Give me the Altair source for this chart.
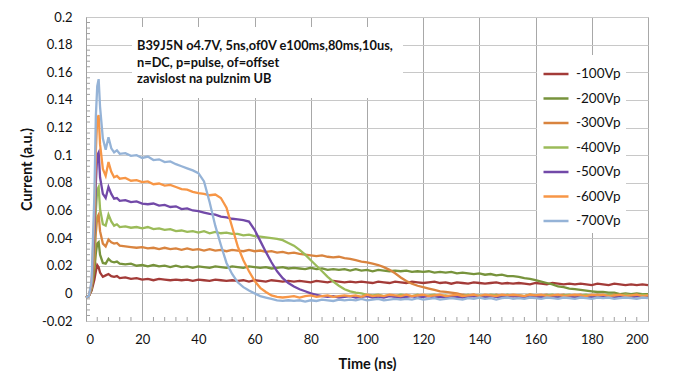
import altair as alt
import pandas as pd

# ---------------- data (current in units of 1e-3 a.u.) ----------------
TIME = [0, 1, 2, 3, 3.5, 4, 4.5, 5, 6, 7, 8, 9, 10, 11, 12] + list(range(14, 201, 2))

CUR_100 = [-3, -2, 2, 10, 16, 20.5, 19, 15, 12, 13, 14, 12.5, 12, 12.5, 11,
           11.5, 10.5, 11, 10, 10.5, 9.5, 10.5, 10, 9.5, 10,
           9.5, 10, 9, 10, 9.5, 9, 10, 9.5, 9, 9.5,
           9, 9.5, 8.5, 9.5, 9, 8.5, 9.5, 9, 8.5, 9,
           8.5, 9, 8.5, 8, 9, 8.5, 8, 9, 8.5, 8,
           8.5, 8, 8.5, 8, 7.5, 8.5, 8, 7.5, 8.5, 8,
           7.5, 8.5, 8, 7.5, 8, 8.5, 7.5, 8, 7, 8,
           7.5, 7, 8, 7.5, 7, 7.5, 8, 7, 7.5, 7,
           7.5, 7, 6.5, 7.5, 7, 6.5, 7.5, 7, 6.5, 7,
           6.5, 7, 6.5, 6, 7, 6.5, 6, 7, 6.5, 6,
           6.5, 6, 6.5, 6]

CUR_200 = [-3, -2, 3, 17, 29, 36, 37, 28, 22, 21.5, 25, 23, 22.5, 23, 21.5,
           21, 21.5, 20, 20.5, 19.5, 20.5, 19.5, 20, 19, 20,
           19, 19.5, 18.5, 19.5, 19, 18.5, 19.5, 19, 18.5, 19.5,
           19, 18.5, 19.5, 19, 18.5, 19, 18, 18.5, 19, 18,
           18.5, 18, 17.5, 18.5, 17.5, 18, 17, 17.5, 17, 17.5,
           16.5, 17.5, 16.5, 17, 16, 17, 16.5, 16, 16.5, 16,
           16.5, 15.5, 16, 15.5, 16, 15, 15.5, 15, 15.5, 14.5,
           15, 14.5, 14, 14.5, 13.5, 14, 13, 13.5, 12.5, 12.5,
           12, 11, 10.5, 9.5, 8.5, 7.5, 6.5, 5, 4.5, 3.5,
           3, 2.5, 2, 1.5, 1, 1, 0.5, 0.5, -0.5, 0,
           -0.5, 0, -0.5, -0.5]

CUR_300 = [-3, -2, 4, 25, 44, 55, 57, 45, 36, 34, 39, 37, 36, 36.5, 34.5,
           34, 33.5, 33, 33.5, 32.5, 33, 32, 33, 32, 32.5,
           31.5, 32.5, 31.5, 32, 31, 32, 31, 31.5, 30.5, 31.5,
           31, 30.5, 31.5, 30.5, 31, 30, 30.5, 29.5, 30, 29,
           29.5, 28.5, 28, 27.5, 27, 27.5, 26.5, 26, 26.5, 25.5,
           25, 24, 23, 22.5, 21.5, 20.5, 19, 17, 14.5, 11.5,
           9, 7, 5.5, 4.5, 3.5, 2.5, 1.5, 1, 0.5, 0,
           -1, -1.5, -1, -2, -1.5, -2, -1, -2, -1.5, -2,
           -1.5, -2, -1, -2, -1.5, -1, -2, -1.5, -1, -2,
           -1.5, -1, -2, -1.5, -1, -1.5, -2, -1, -1.5, -1,
           -1.5, -1, -2, -1.5]

CUR_400 = [-3, -2, 5, 34, 60, 75, 77, 61, 50, 49, 57, 52, 49, 50, 48,
           48.5, 47.5, 48, 47, 48, 46.5, 47, 46, 46.5, 45,
           45.5, 44.5, 45, 44, 45, 43.5, 44.5, 43.5, 44, 43,
           43, 42, 42.5, 41.5, 41, 40.5, 40, 39.5, 38.5, 36.5,
           34.5, 31.5, 28, 24, 20, 16, 12, 8.5, 5.5, 3,
           1.5, 0.5, 0, -1, -1.5, -1, -2, -1.5, -2, -1,
           -1.5, -2, -1, -2, -1.5, -1, -2, -1.5, -2.5, -1.5,
           -2, -1, -2, -1.5, -2, -1, -1.5, -2, -1, -2,
           -1.5, -2, -1, -1.5, -2, -1.5, -1, -2, -1.5, -1,
           -2, -1.5, -1, -2, -1.5, -2, -1, -1.5, -2, -1,
           -1.5, -2, -1, -1.5]

CUR_500 = [-3, -2, 6, 45, 80, 100, 102, 84, 72, 69, 77, 72, 68.5, 69, 67,
           67.5, 66, 66.5, 65, 64.5, 65, 63.5, 64, 62.5, 63,
           61, 61.5, 60, 59.5, 58.5, 57.5, 57, 55.5, 55, 54,
           53.5, 53, 52, 46, 38, 30, 22.5, 16, 11, 7.5,
           5, 3, 1.5, 0, -1, -2, -2.5, -2, -3, -2.5,
           -2, -3, -2.5, -2, -3, -2.5, -3, -2, -2.5, -3,
           -2.5, -2, -3, -2.5, -2, -3, -2.5, -3, -2, -2.5,
           -3, -2.5, -2, -2.5, -3, -2, -2.5, -3, -2.5, -2,
           -2.5, -3, -2, -2.5, -3, -2.5, -2, -3, -2.5, -2,
           -3, -2.5, -2, -3, -2.5, -2, -2.5, -3, -2, -2.5,
           -3, -2, -2.5, -2]

CUR_600 = [-3, -2, 7, 58, 103, 126, 129, 108, 90, 85, 95, 88, 84, 85, 83,
           83.5, 81.5, 82, 80.5, 81, 79, 79.5, 78, 78.5, 77,
           75.5, 75, 73.5, 72.5, 72, 71, 71.5, 69, 62, 48,
           34, 24, 16, 9, 4, 1, -1.5, -2.5, -3, -2.5,
           -2, -3, -2, -1.5, -2.5, -2, -1.5, -2.5, -2, -1.5,
           -2, -1.5, -2.5, -1, -2, -1.5, -2, -1, -1.5, -2,
           -1, -2, -1.5, -1, -2, -1.5, -1, -2, -1.5, -1,
           -2, -1.5, -1, -2, -1, -1.5, -2, -1, -1.5, -1,
           -1.5, -2, -1, -1.5, -1, -2, -1.5, -1, -2, -1.5,
           -1, -1.5, -2, -1, -1.5, -1, -2, -1.5, -1, -2,
           -1.5, -1, -2, -1.5]

CUR_700 = [-3, -2, 9, 72, 128, 150, 155, 135, 112, 104, 113, 105, 102, 103.5, 101,
           101.5, 99.5, 100, 98, 99, 96.5, 97, 95, 95.5, 93.5,
           92, 90.5, 89, 87, 81, 66, 49, 35, 22, 14,
           8, 4.5, 2, 0, -2, -3, -4, -5, -5.5, -5,
           -5.5, -5, -6, -5, -5.5, -4.5, -5, -5.5, -4.5, -5,
           -4.5, -5, -4, -5, -4.5, -4, -5, -4.5, -4, -4.5,
           -4, -4.5, -3.5, -4.5, -4, -3.5, -4.5, -4, -3.5, -4,
           -4.5, -3.5, -4, -3, -4, -3.5, -4.5, -3.5, -3, -4,
           -3.5, -4, -3, -3.5, -4, -3, -3.5, -4, -3, -3.5,
           -4, -3, -3.5, -4, -3, -3.5, -3, -4, -3.5, -3,
           -3.5, -4, -3, -3.5]

SERIES_NAMES = ["-100Vp", "-200Vp", "-300Vp", "-400Vp", "-500Vp", "-600Vp", "-700Vp"]
SERIES_DATA = [CUR_100, CUR_200, CUR_300, CUR_400, CUR_500, CUR_600, CUR_700]
SERIES_COLORS = ["#A33B38", "#77933C", "#D9843F", "#9BBB59", "#7249A8", "#F79646", "#95B3D7"]

X_TICKS = [0, 20, 40, 60, 80, 100, 120, 140, 160, 180, 200]
Y_TICKS = [-0.02, 0, 0.02, 0.04, 0.06, 0.08, 0.1, 0.12, 0.14, 0.16, 0.18, 0.2]
X_MINOR = [4, 8, 12, 16, 24, 28, 32, 36, 44, 48, 52, 56, 64, 68, 72, 76, 84, 88, 92, 96,
           104, 108, 112, 116, 124, 128, 132, 136, 144, 148, 152, 156, 164, 168, 172, 176,
           184, 188, 192, 196]
Y_MINOR = [-0.016, -0.012, -0.008, -0.004, 0.004, 0.008, 0.012, 0.016, 0.024, 0.028, 0.032,
           0.036, 0.044, 0.048, 0.052, 0.056, 0.064, 0.068, 0.072, 0.076, 0.084, 0.088,
           0.092, 0.096, 0.104, 0.108, 0.112, 0.116, 0.124, 0.128, 0.132, 0.136, 0.144,
           0.148, 0.152, 0.156, 0.164, 0.168, 0.172, 0.176, 0.184, 0.188, 0.192, 0.196]

NOTE_LINES = ["B39J5N o4.7V, 5ns,of0V e100ms,80ms,10us,",
              "n=DC, p=pulse, of=offset",
              "zavislost na pulznim UB"]

# ---------------- build table ----------------
rows = []
for name, vals in zip(SERIES_NAMES, SERIES_DATA):
    for t, v in zip(TIME, vals):
        rows.append({"time": t, "current": v / 1000.0, "series": name})
df = pd.DataFrame(rows)

FONT = "Lato"
W, H = 562, 304

x_scale = alt.Scale(domain=[0, 200], nice=False, zero=False)
y_scale = alt.Scale(domain=[-0.02, 0.2], nice=False, zero=False)

x_axis = alt.Axis(values=X_TICKS, format="d", title="Time (ns)",
                  grid=True, gridColor="#A8A8A8", gridWidth=1,
                  ticks=False, domain=False, labelPadding=12, titlePadding=11)
y_axis = alt.Axis(values=Y_TICKS, title="Current (a.u.)",
                  labelExpr="datum.value < 0 ? '-' + format(-datum.value, '~g') : format(datum.value, '~g')",
                  grid=True, gridColor="#C8C8C8", gridWidth=1,
                  ticks=False, domain=True, domainColor="#A0A0A0",
                  labelPadding=14, titlePadding=7)

X_ENC = alt.X("time:Q", scale=x_scale, axis=x_axis)
Y_ENC = alt.Y("current:Q", scale=y_scale, axis=y_axis)

lines = alt.Chart(df).mark_line(strokeWidth=2.3).encode(
    x=X_ENC, y=Y_ENC,
    color=alt.Color("series:N",
                    scale=alt.Scale(domain=SERIES_NAMES, range=SERIES_COLORS),
                    legend=alt.Legend(title=None, orient="none", legendX=451, legendY=38,
                                      symbolType="stroke", symbolSize=625,
                                      symbolStrokeWidth=2.5, labelFont=FONT,
                                      labelFontSize=13.5, labelColor="#111",
                                      labelOffset=6, rowPadding=3.5, padding=5,
                                      fillColor="white")),
)

minor_y = alt.Chart(pd.DataFrame({"current": Y_MINOR})).mark_rule(
    color="#A0A0A0", strokeWidth=1).encode(
    y=Y_ENC, x=alt.value(0), x2=alt.value(4))

minor_x = alt.Chart(pd.DataFrame({"time": X_MINOR})).mark_rule(
    color="#A0A0A0", strokeWidth=1).encode(
    x=X_ENC, y=alt.value(H - 4), y2=alt.value(H))

note_df = pd.DataFrame({"txt": ["\n".join(NOTE_LINES)]})
note_box = alt.Chart(note_df).mark_rect(color="white").encode(
    x=alt.value(46), x2=alt.value(317), y=alt.value(10), y2=alt.value(81))
note_text = alt.Chart(note_df).mark_text(
    align="left", baseline="top", font=FONT, fontWeight="bold", fontSize=12.8,
    lineHeight=16.5, lineBreak="\n", color="#111").encode(
    x=alt.value(51), y=alt.value(23), text="txt:N")

chart = alt.layer(lines, minor_y, minor_x, note_box, note_text).properties(
    width=W, height=H,
    padding={"left": 78, "top": 9, "right": 20, "bottom": 50},
    autosize=alt.AutoSizeParams(type="none"),
).configure_view(stroke="#BFBFBF", strokeWidth=1).configure_axis(
    labelFont=FONT, labelFontSize=13, labelColor="#111",
    titleFont=FONT, titleFontSize=14.5, titleFontWeight="bold", titleColor="#111",
)

chart.save("out.html", embed_options={"renderer": "svg", "actions": False})
